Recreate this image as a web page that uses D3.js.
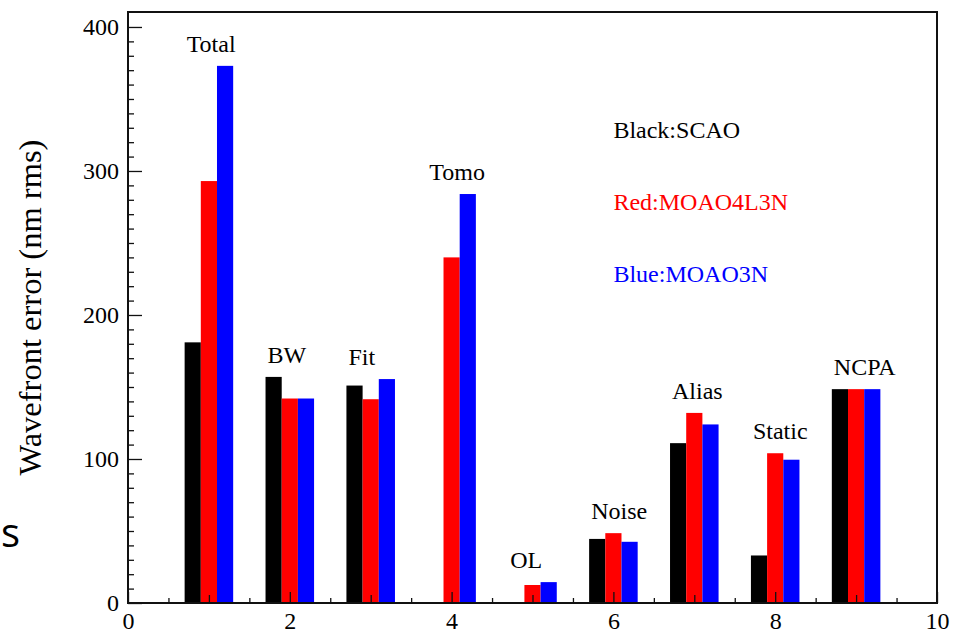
<!DOCTYPE html>
<html>
<head>
<meta charset="utf-8">
<script src="https://cdn.jsdelivr.net/npm/d3@7"></script>
<style>
  html, body { margin: 0; padding: 0; background: #fff; }
  svg { display: block; }
  text { font-family: "Liberation Serif", "Times New Roman", serif; }
</style>
</head>
<body>
<svg id="chart" width="953" height="635"></svg>
<script>
// Error-budget terms (one group of bars per term)
const categories = ["Total", "BW", "Fit", "Tomo", "OL", "Noise", "Alias", "Static", "NCPA"];
// Wavefront error in nm rms for each configuration
const scao     = [181, 157, 151, 0.5, 0.5, 44.5, 111, 33, 148.5];
const moao4l3n = [293, 142, 141.5, 240, 12.5, 48.5, 132, 104, 148.5];
const moao3n   = [373, 142, 155.5, 284, 14.5, 42.5, 124, 99.5, 148.5];

const seriesNames  = ["SCAO", "MOAO4L3N", "MOAO3N"];
const seriesColors = ["#000000", "#ff0000", "#0000ff"];
const colorWords   = ["Black", "Red", "Blue"];
const seriesValues = [scao, moao4l3n, moao3n];

const yMajorTicks = [0, 100, 200, 300, 400];
const xMajorTicks = [0, 2, 4, 6, 8, 10];

const svg = d3.select("#chart");
const frame = { left: 128, right: 937, top: 12, bottom: 603 };

const x = d3.scaleLinear().domain([0, 10]).range([frame.left, frame.right]);
const y = d3.scaleLinear().domain([0, 410.4]).range([frame.bottom, frame.top]);

const barW = 0.2;

// Bars: three adjacent bars per term, centred on the term's integer position
seriesValues.forEach((vals, s) => {
  svg.append("g")
    .selectAll("rect")
    .data(vals)
    .join("rect")
    .attr("x", (d, i) => x(i + 1 - 1.5 * barW + s * barW))
    .attr("width", x(barW) - x(0))
    .attr("y", d => y(d))
    .attr("height", d => y(0) - y(d))
    .attr("fill", seriesColors[s]);
});

// Term labels, left-aligned with the first bar of each group
svg.append("g")
  .selectAll("text")
  .data(categories)
  .join("text")
  .attr("x", (d, i) => x(i + 1 - 1.5 * barW) + 2)
  .attr("y", (d, i) => y(Math.max(scao[i], moao4l3n[i], moao3n[i])) - 14)
  .attr("font-size", 24)
  .attr("fill", "#000")
  .text(d => d);

// Legend text
svg.append("g")
  .selectAll("text")
  .data(seriesNames)
  .join("text")
  .attr("x", x(6))
  .attr("y", (d, i) => y(323 - 50 * i))
  .attr("font-size", 24)
  .attr("fill", (d, i) => seriesColors[i])
  .text((d, i) => colorWords[i] + ":" + d);

// Axes with inward ticks
const axisColor = "#111";

function styleAxis(g) {
  g.select(".domain").remove();
  g.selectAll("line").attr("stroke", axisColor).attr("stroke-width", 1.3);
  g.selectAll("text").attr("font-size", 24).attr("fill", "#000")
    .attr("font-family", "Liberation Serif, Times New Roman, serif");
}

// y: minor every 10, major every 100
svg.append("g")
  .attr("transform", `translate(${frame.left},0)`)
  .call(d3.axisLeft(y).tickValues(d3.range(0, 410, 10).filter(v => v % 100 !== 0))
    .tickSize(-6).tickFormat(""))
  .call(styleAxis);
svg.append("g")
  .attr("transform", `translate(${frame.left},0)`)
  .call(d3.axisLeft(y).tickValues(yMajorTicks).tickSize(-14).tickPadding(9).tickFormat(d3.format("d")))
  .call(styleAxis);

// x: half-unit, odd and even ticks
svg.append("g")
  .attr("transform", `translate(0,${frame.bottom})`)
  .call(d3.axisBottom(x).tickValues(d3.range(0.5, 10, 1)).tickSize(-5).tickFormat(""))
  .call(styleAxis);
svg.append("g")
  .attr("transform", `translate(0,${frame.bottom})`)
  .call(d3.axisBottom(x).tickValues([1, 3, 5, 7, 9]).tickSize(-8).tickFormat(""))
  .call(styleAxis);
svg.append("g")
  .attr("transform", `translate(0,${frame.bottom})`)
  .call(d3.axisBottom(x).tickValues(xMajorTicks).tickSize(-11).tickPadding(9).tickFormat(d3.format("d")))
  .call(styleAxis);

// Plot frame
svg.append("rect")
  .attr("x", frame.left)
  .attr("y", frame.top)
  .attr("width", frame.right - frame.left)
  .attr("height", frame.bottom - frame.top)
  .attr("fill", "none")
  .attr("stroke", axisColor)
  .attr("stroke-width", 2);

// Y-axis title
svg.append("text")
  .attr("transform", `translate(41,${(frame.top + frame.bottom) / 2}) rotate(-90)`)
  .attr("text-anchor", "middle")
  .attr("font-size", 32.5)
  .attr("fill", "#000")
  .text("Wavefront error (nm rms)");

// Stray letter at the left edge
svg.append("text")
  .attr("x", 1)
  .attr("y", 547)
  .attr("font-size", 40)
  .attr("fill", "#000")
  .style("font-family", "'Open Sans', sans-serif")
  .text("s");
</script>
</body>
</html>
